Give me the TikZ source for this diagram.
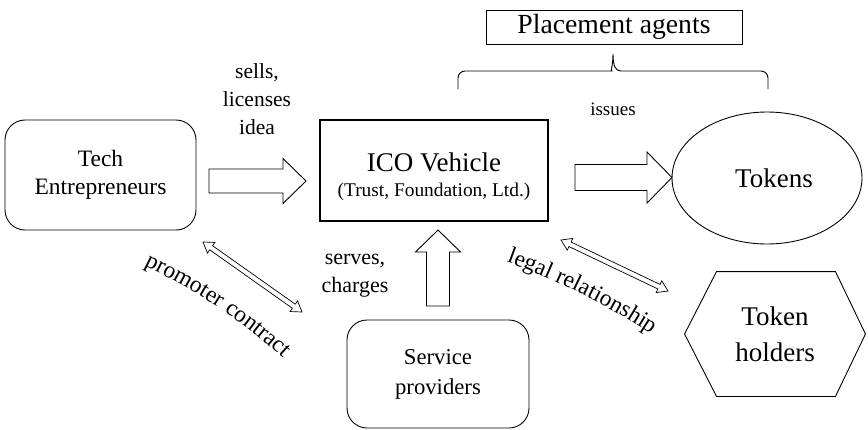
\documentclass[tikz,border=0pt]{standalone}
\usepackage{fontspec}
\setmainfont{Liberation Serif}
\usetikzlibrary{calc,shapes.geometric,decorations.text}

\newcommand\blockarrow[5]{%
  \coordinate (bap) at ($(#2)!#5!(#1)$);
  \draw[blk] ($(#1)!#3!90:(#2)$) -- ($(bap)!#3!90:(#2)$) -- ($(bap)!#4!90:(#2)$) -- (#2)
    -- ($(bap)!#4!-90:(#2)$) -- ($(bap)!#3!-90:(#2)$) -- ($(#1)!#3!-90:(#2)$) -- cycle;}
\newcommand\dblarrow[5]{%
  \coordinate (dap) at ($(#2)!#5!(#1)$);
  \coordinate (daq) at ($(#1)!#5!(#2)$);
  \draw[thinarr] (#1) -- ($(daq)!#4!90:(#2)$) -- ($(daq)!#3!90:(#2)$) -- ($(dap)!#3!90:(#2)$)
    -- ($(dap)!#4!90:(#2)$) -- (#2) -- ($(dap)!#4!-90:(#2)$) -- ($(dap)!#3!-90:(#2)$)
    -- ($(daq)!#3!-90:(#2)$) -- ($(daq)!#4!-90:(#2)$) -- cycle;}
\newcommand\fsLabel{\fontsize{23.5}{28}\selectfont}

\begin{document}
\begin{tikzpicture}[x=1pt,y=-1pt,line width=0.9pt,
  rbox/.style={draw, rounded corners=20pt, align=center, inner sep=0pt},
  lbl/.style={align=center, inner sep=0pt},
  blk/.style={draw, line width=0.9pt, fill=white, line join=miter},
  thinarr/.style={draw, line width=0.7pt, fill=white, line join=miter}]
\useasboundingbox (0,0) rectangle (868,429);

% main nodes
\node[rbox, minimum width=191pt, minimum height=110pt, font=\fontsize{23.5}{28}\selectfont]
  (te) at (100.5,175) {Tech\\Entrepreneurs};
\node[draw, line width=2pt, minimum width=228pt, minimum height=101pt] (ico) at (434,170.5) {};
\node[lbl, font=\fontsize{27}{25}\selectfont] (icot) at (434,177)
  {ICO Vehicle\\{\fontsize{19.4}{25}\selectfont (Trust, Foundation, Ltd.)}};
\node[draw, minimum width=256pt, minimum height=34pt, inner sep=0pt,
  font=\fontsize{27.7}{30}\selectfont] (pa) at (614,27) {Placement agents};
\node[ellipse, draw, minimum width=190pt, minimum height=132pt, inner sep=0pt,
  font=\fontsize{27}{30}\selectfont] (tok) at (767,178) {\hspace*{14pt}Tokens};
\node[lbl, minimum width=180pt, minimum height=124pt, font=\fontsize{27}{36}\selectfont]
  (th) at (775,334) {Token\\holders};
\draw (th.west) -- ([xshift=32pt]th.north west) -- ([xshift=-30pt]th.north east) -- (th.east)
  -- ([xshift=-30pt]th.south east) -- ([xshift=32pt]th.south west) -- cycle;
\node[rbox, minimum width=182pt, minimum height=108pt, font=\fontsize{22.7}{30}\selectfont]
  (sp) at (438,374) {Service\\providers};

% labels
\node[lbl, font=\fontsize{21.5}{28}\selectfont] (sells) at (257,99) {sells,\\licenses\\idea};
\node[lbl, font=\fontsize{22}{28}\selectfont] (serves) at (355,276) {serves,\\charges};
\node[lbl, font=\fontsize{19}{22}\selectfont] (iss) at (613,109) {issues};

% brace below placement agents
\coordinate (brL) at (458,89);
\coordinate (brR) at (768,89);
\coordinate (brT) at (613,54);
\draw[rounded corners=7pt] (brL) -- (458,71) -- (605,71) [sharp corners]
  .. controls (610,71) and (613,67) .. (brT)
  .. controls (613,67) and (616,71) .. (621,71) [rounded corners=7pt] -- (768,71) -- (brR);

% block arrows
\coordinate (a1s) at (209,181);   \coordinate (a1e) at (306,181);
\blockarrow{a1s}{a1e}{12pt}{22.5pt}{23pt}
\coordinate (a2s) at (575,177.5); \coordinate (a2e) at (672,177.5);
\blockarrow{a2s}{a2e}{13pt}{25.5pt}{25pt}
\coordinate (a3s) at (438,306);   \coordinate (a3e) at (438,230);
\blockarrow{a3s}{a3e}{11.5pt}{22.5pt}{22pt}

% double arrows
\coordinate (d1s) at (203,242); \coordinate (d1e) at (302,312);
\dblarrow{d1s}{d1e}{2.5pt}{6.5pt}{10pt}
\coordinate (d2s) at (561,240); \coordinate (d2e) at (668,291);
\dblarrow{d2s}{d2e}{2.5pt}{6.5pt}{10pt}

% curved labels
\path[decorate, decoration={text along path, text align=center,
   text={|\fsLabel|promoter contract}}]
  (124,256) .. controls (184,284) and (248,320) .. (299,374);
\path[decorate, decoration={text along path, text align=center,
   text={|\fsLabel|legal relationship}}]
  (487,255) .. controls (550,276) and (612,306) .. (669,346);
\end{tikzpicture}
\end{document}
